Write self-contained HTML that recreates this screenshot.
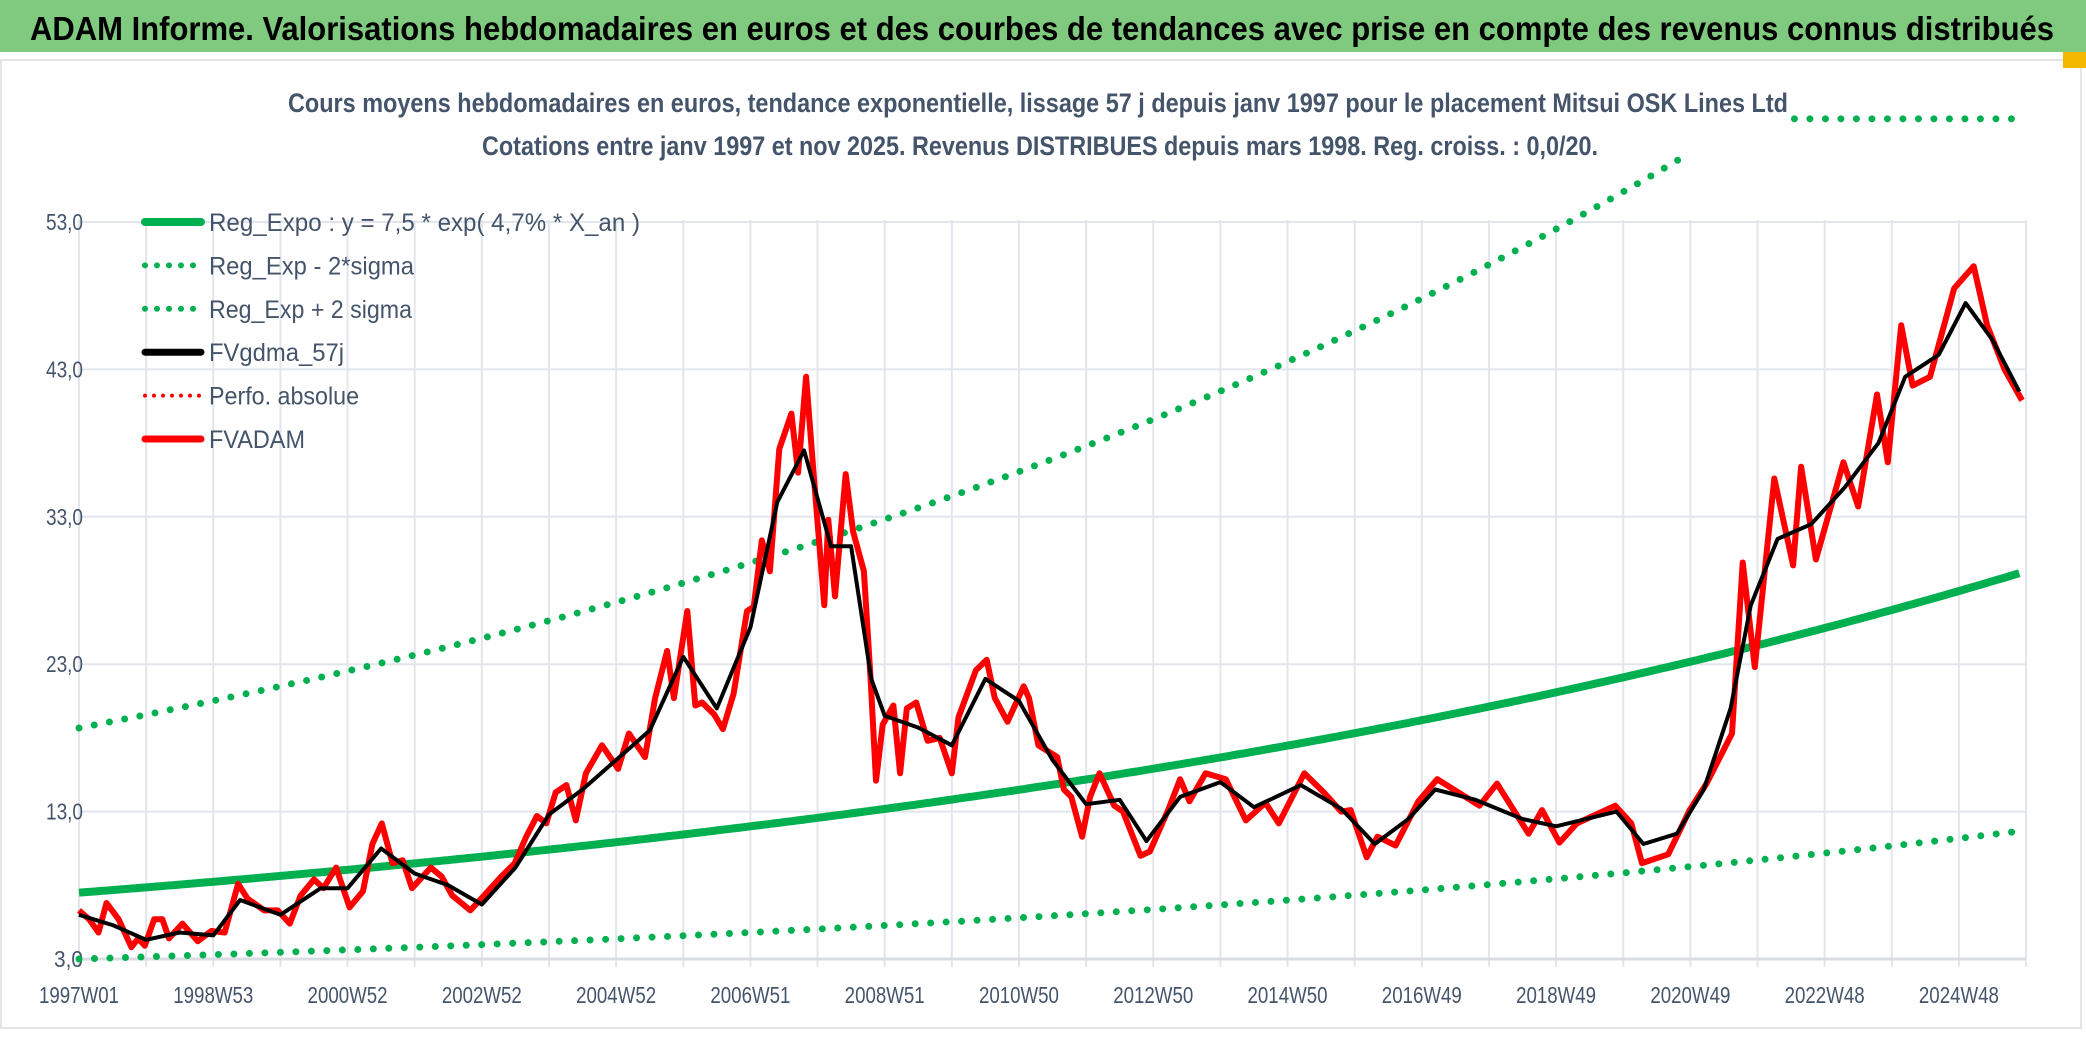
<!DOCTYPE html>
<html><head><meta charset="utf-8"><style>
html,body{margin:0;padding:0;background:#fff;}
svg{display:block;}
text{font-family:"Liberation Sans",sans-serif;}
</style></head><body>
<svg id="chart" width="2086" height="1037" viewBox="0 0 2086 1037" xmlns="http://www.w3.org/2000/svg">
<rect x="0" y="0" width="2086" height="52" fill="#7fca7f"/>
<text x="30" y="40" font-size="33" font-weight="bold" fill="#000" textLength="2024" lengthAdjust="spacingAndGlyphs">ADAM Informe. Valorisations hebdomadaires en euros et des courbes de tendances avec prise en compte des revenus connus distribués</text>
<rect x="1" y="60" width="2080" height="968" fill="none" stroke="#e3e5e8" stroke-width="2"/>
<rect x="2063" y="52" width="23" height="16" fill="#f5b800"/>
<text x="288" y="112" font-size="27" font-weight="bold" fill="#44546a" textLength="1500" lengthAdjust="spacingAndGlyphs">Cours moyens hebdomadaires en euros, tendance exponentielle, lissage 57 j depuis janv 1997 pour le placement Mitsui OSK Lines Ltd</text>
<text x="482" y="155" font-size="27" font-weight="bold" fill="#44546a" textLength="1116" lengthAdjust="spacingAndGlyphs">Cotations entre janv 1997 et nov 2025. Revenus DISTRIBUES depuis mars 1998. Reg. croiss. : 0,0/20.</text>
<g id="grid"></g>
<g id="axes"></g>
<g id="series"></g>
<g id="legend"></g>
</svg>
<script>
// ---- data ----
const yTicks = [3, 13, 23, 33, 43, 53];
const yTickLabels = ["3,0", "13,0", "23,0", "33,0", "43,0", "53,0"];
const xTickYears = [1997, 1999, 2001, 2003, 2005, 2007, 2009, 2011, 2013, 2015, 2017, 2019, 2021, 2023, 2025];
const xTickLabels = ["1997W01", "1998W53", "2000W52", "2002W52", "2004W52", "2006W51", "2008W51", "2010W50", "2012W50", "2014W50", "2016W49", "2018W49", "2020W49", "2022W48", "2024W48"];
const regA = 7.5;
const regB = 0.047;
const lowFactor = 0.40;
const highFactor = 2.49;
const highClipValue = 57.6;
const overflowValue = 60.0;
const overflowStart = 2022.55;
const redDates = [1997.00,1997.15,1997.29,1997.41,1997.59,1997.78,1997.88,1997.98,1998.12,1998.24,1998.34,1998.54,1998.77,1998.97,1999.17,1999.37,1999.51,1999.76,1999.96,2000.14,2000.30,2000.50,2000.64,2000.83,2001.03,2001.23,2001.37,2001.51,2001.67,2001.82,2001.96,2002.24,2002.40,2002.56,2002.83,2003.03,2003.29,2003.49,2003.66,2003.82,2003.96,2004.10,2004.26,2004.40,2004.55,2004.79,2005.03,2005.19,2005.43,2005.58,2005.76,2005.86,2006.06,2006.18,2006.28,2006.46,2006.59,2006.75,2006.95,2007.05,2007.17,2007.29,2007.43,2007.61,2007.71,2007.83,2007.94,2008.10,2008.16,2008.26,2008.42,2008.53,2008.69,2008.79,2008.87,2008.97,2009.13,2009.23,2009.33,2009.47,2009.64,2009.82,2010.00,2010.10,2010.36,2010.52,2010.64,2010.83,2011.07,2011.15,2011.29,2011.57,2011.67,2011.78,2011.94,2012.06,2012.20,2012.42,2012.55,2012.81,2012.95,2013.23,2013.40,2013.54,2013.78,2014.08,2014.38,2014.67,2014.87,2015.25,2015.54,2015.80,2015.94,2016.18,2016.34,2016.61,2016.95,2017.23,2017.86,2018.12,2018.59,2018.79,2019.05,2019.31,2019.88,2020.12,2020.28,2020.67,2020.99,2021.24,2021.62,2021.78,2021.96,2022.25,2022.53,2022.65,2022.87,2023.28,2023.50,2023.78,2023.94,2024.14,2024.31,2024.57,2024.93,2025.22,2025.42,2025.68,2025.94];
const redValues = [6.3,5.7,4.8,6.8,5.7,3.8,4.4,3.9,5.7,5.7,4.4,5.4,4.2,4.9,4.8,8.1,7.1,6.3,6.3,5.4,7.3,8.4,7.8,9.2,6.5,7.6,10.8,12.2,9.5,9.7,7.8,9.2,8.6,7.3,6.3,7.3,8.6,9.5,11.3,12.7,12.2,14.3,14.8,12.4,15.6,17.5,15.9,18.3,16.7,20.7,23.9,20.7,26.6,20.2,20.4,19.6,18.6,21.0,26.6,26.9,31.4,29.3,37.6,40.0,36.0,42.5,36.0,27.0,32.8,27.6,35.9,32.0,29.3,22.0,15.1,18.9,20.2,15.6,20.0,20.4,17.8,18.0,15.6,19.4,22.6,23.3,20.7,19.1,21.5,20.7,17.5,16.7,14.5,14.0,11.3,14.0,15.6,13.4,13.0,10.0,10.3,13.2,15.2,13.7,15.6,15.2,12.4,13.6,12.2,15.6,14.3,13.0,13.1,9.9,11.3,10.7,13.7,15.2,13.4,14.9,11.5,13.1,10.9,12.2,13.4,12.2,9.5,10.1,13.1,14.9,18.3,29.9,22.8,35.6,29.7,36.4,30.1,36.7,33.7,41.3,36.7,46.0,41.9,42.5,48.5,50.0,46.0,43.0,40.9];
const blackDates = [1997.0,1997.5,1998.0,1998.5,1999.0,1999.4,2000.0,2000.6,2001.0,2001.5,2002.0,2002.5,2003.0,2003.5,2004.0,2004.5,2005.0,2005.5,2006.0,2006.5,2007.0,2007.4,2007.8,2008.2,2008.5,2008.8,2009.0,2009.5,2010.0,2010.5,2011.0,2011.5,2012.0,2012.5,2012.9,2013.4,2014.0,2014.5,2015.2,2015.8,2016.3,2016.8,2017.2,2017.8,2018.5,2019.0,2019.9,2020.3,2020.8,2021.2,2021.6,2021.9,2022.3,2022.8,2023.3,2023.8,2024.2,2024.7,2025.1,2025.5,2025.9];
const blackValues = [6.0,5.3,4.3,4.8,4.6,7.0,6.0,7.8,7.8,10.5,8.8,8.0,6.7,9.2,12.8,14.5,16.5,18.5,23.5,20.0,25.5,34.0,37.5,31.0,31.0,22.0,19.5,18.7,17.5,22.0,20.5,16.5,13.5,13.8,11.0,14.0,15.0,13.3,14.8,13.2,10.8,12.5,14.5,13.8,12.5,12.0,13.0,10.8,11.5,14.5,20.0,27.0,31.5,32.5,35.0,38.0,42.5,44.0,47.5,45.0,41.5];
const legendLabels = ["Reg_Expo : y = 7,5 * exp( 4,7% *  X_an )", "Reg_Exp - 2*sigma", "Reg_Exp + 2 sigma", "FVgdma_57j", "Perfo. absolue", "FVADAM"];

// ---- scales ----
const NS = "http://www.w3.org/2000/svg";
const X0 = 79, PXY = 67.14, Y0 = 959, PXV = 14.74;
function xs(t){ return X0 + (t - 1997) * PXY; }
function ys(v){ return Y0 - (v - 3) * PXV; }
function mk(tag, attrs, parent){ const e = document.createElementNS(NS, tag); for (const k in attrs) e.setAttribute(k, attrs[k]); parent.appendChild(e); return e; }
const grid = document.getElementById('grid');
const axes = document.getElementById('axes');
const series = document.getElementById('series');
const legend = document.getElementById('legend');
const tEnd = 2026;

for (let yr = 1997; yr <= 2026; yr++) {
  const l = mk('line', {x1: xs(yr), x2: xs(yr), y1: ys(53) - 2, y2: Y0 + 8, stroke: '#e2e6ec', 'stroke-width': 2}, grid);
  
  
}
yTicks.forEach((v, i) => {
  const l = mk('line', {x1: X0, x2: xs(tEnd), y1: ys(v), y2: ys(v), stroke: i === 0 ? '#d9dce1' : '#e2e6ec', 'stroke-width': i === 0 ? 3 : 2}, grid);
  
  
  const t = mk('text', {x: 83, y: ys(v) + 8, 'font-size': 23, fill: '#44546a', 'text-anchor': 'end', textLength: i === 0 ? 29 : 37, lengthAdjust: 'spacingAndGlyphs'}, axes);
  t.textContent = yTickLabels[i];
  
  
});
xTickYears.forEach((yr, i) => {
  const t = mk('text', {x: xs(yr), y: 1003, 'font-size': 23, fill: '#44546a', 'text-anchor': 'middle', textLength: 80, lengthAdjust: 'spacingAndGlyphs'}, axes);
  t.textContent = xTickLabels[i];
  
  
});

function regPath(factor, clip){
  let d = '';
  let started = false;
  for (let t = 1997; t <= 2025.94 + 1e-9; t += 0.05) {
    const v = regA * Math.exp(regB * (t - 1997)) * factor;
    if (clip && v > clip) break;
    d += (started ? 'L' : 'M') + xs(t).toFixed(1) + ',' + ys(v).toFixed(1);
    started = true;
  }
  return d;
}
const dotDash = '0 15.5';
const pLow = mk('path', {d: regPath(lowFactor), fill: 'none', stroke: '#00b050', 'stroke-width': 7, 'stroke-linecap': 'round', 'stroke-dasharray': dotDash}, series);


const pHigh = mk('path', {d: regPath(highFactor, highClipValue), fill: 'none', stroke: '#00b050', 'stroke-width': 7, 'stroke-linecap': 'round', 'stroke-dasharray': dotDash}, series);


const pOver = mk('path', {d: 'M' + xs(overflowStart) + ',' + ys(overflowValue) + 'L' + xs(tEnd) + ',' + ys(overflowValue), fill: 'none', stroke: '#00b050', 'stroke-width': 7, 'stroke-linecap': 'round', 'stroke-dasharray': dotDash}, series);


const pReg = mk('path', {d: regPath(1), fill: 'none', stroke: '#00b050', 'stroke-width': 8}, series);



function linePath(ds, vs){ return ds.map((t, i) => (i ? 'L' : 'M') + xs(t).toFixed(1) + ',' + ys(vs[i]).toFixed(1)).join(''); }
const pRed = mk('path', {d: linePath(redDates, redValues), fill: 'none', stroke: '#ff0000', 'stroke-width': 6, 'stroke-linejoin': 'round'}, series);


const pBlack = mk('path', {d: linePath(blackDates, blackValues), fill: 'none', stroke: '#000', 'stroke-width': 4, 'stroke-linejoin': 'round'}, series);



const legStyles = [
  {stroke: '#00b050', w: 8, dash: null},
  {stroke: '#00b050', w: 6, dash: '0 12'},
  {stroke: '#00b050', w: 6, dash: '0 12'},
  {stroke: '#000', w: 7, dash: null},
  {stroke: '#ff0000', w: 4, dash: '0 9'},
  {stroke: '#ff0000', w: 7, dash: null}
];
const legWidths = [431, 205, 203, 135, 150, 96];
legendLabels.forEach((lab, i) => {
  const y = 222 + i * 43.4;
  const st = legStyles[i];
  const a = {x1: 145, x2: 201, y1: y, y2: y, stroke: st.stroke, 'stroke-width': st.w, 'stroke-linecap': 'round'};
  if (st.dash) a['stroke-dasharray'] = st.dash;
  const l = mk('line', a, legend);
  
  
  const t = mk('text', {x: 209, y: y + 9, 'font-size': 25, fill: '#44546a', textLength: legWidths[i], lengthAdjust: 'spacingAndGlyphs'}, legend);
  t.textContent = lab;
  
  
});
</script>
</body></html>
